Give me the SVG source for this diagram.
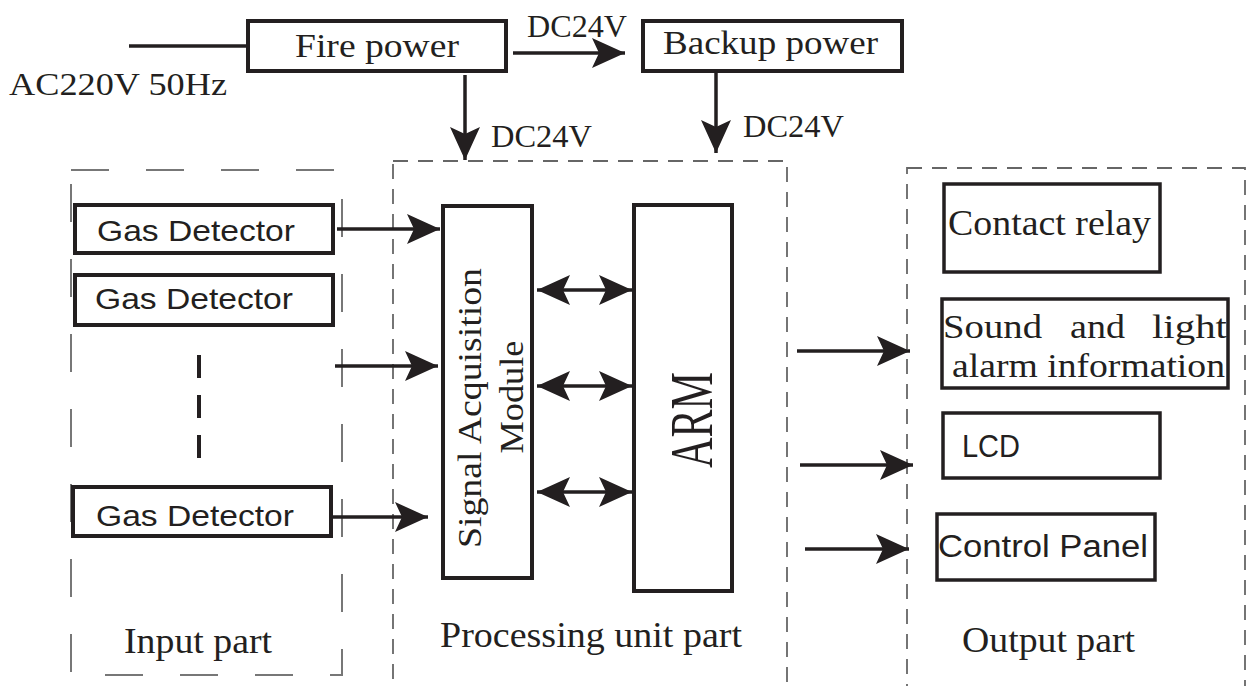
<svg xmlns="http://www.w3.org/2000/svg" width="1246" height="686" viewBox="0 0 1246 686">
<defs>
<style>
.bg{fill:#ffffff}
.box{fill:#ffffff;stroke:#231f20;stroke-width:4}
.obox{fill:#ffffff;stroke:#231f20;stroke-width:3.5}
.grp{fill:none;stroke:#666;stroke-width:1.8;stroke-dasharray:15 10}
.grpin{fill:none;stroke:#777;stroke-width:2;stroke-dasharray:38 37}
.ln{stroke:#231f20;stroke-width:3.5;fill:none}
.arr{stroke:#231f20;stroke-width:3.5;fill:none;marker-end:url(#ah)}
.darr{stroke:#231f20;stroke-width:3.5;fill:none;marker-end:url(#ah);marker-start:url(#ah)}
.serif{font-family:"Liberation Serif","Times New Roman",serif;fill:#231f20}
.sans{font-family:"Liberation Sans",Arial,sans-serif;fill:#231f20}
</style>
<marker id="ah" markerUnits="userSpaceOnUse" markerWidth="36" markerHeight="32" refX="33" refY="15" orient="auto-start-reverse" viewBox="0 0 36 32">
<path d="M0,0 L33,15 L0,30 L7,15 z" fill="#231f20"/>
</marker>
</defs>
<rect class="bg" x="0" y="0" width="1246" height="686"/>

<g id="groups">
<rect id="input-part" class="grpin" x="71" y="170" width="271" height="505"/>
<rect id="processing-part" class="grp" x="393" y="161" width="394" height="540"/>
<rect id="output-part" class="grp" x="907" y="168" width="338" height="540"/>
<text class="serif" x="124" y="653" font-size="35" textLength="148" lengthAdjust="spacingAndGlyphs">Input part</text>
<text class="serif" x="440" y="647" font-size="35" textLength="302" lengthAdjust="spacingAndGlyphs">Processing unit part</text>
<text class="serif" x="962" y="652" font-size="35" textLength="173" lengthAdjust="spacingAndGlyphs">Output part</text>
</g>

<g id="connectors">
<line class="ln" x1="129" y1="46" x2="246" y2="46" stroke-width="3"/>
<line class="arr" x1="513" y1="53" x2="625" y2="53"/>
<line class="arr" x1="465" y1="75" x2="465" y2="160"/>
<line class="arr" x1="716" y1="73" x2="716" y2="153"/>
<line class="arr" x1="337" y1="229" x2="440" y2="229"/>
<line class="arr" x1="335" y1="366" x2="438" y2="366"/>
<line class="arr" x1="333" y1="517" x2="428" y2="517"/>
<line class="darr" x1="537" y1="290" x2="632" y2="290"/>
<line class="darr" x1="537" y1="386" x2="632" y2="386"/>
<line class="darr" x1="537" y1="492" x2="632" y2="492"/>
<line class="arr" x1="797" y1="351" x2="910" y2="351"/>
<line class="arr" x1="800" y1="465" x2="913" y2="465"/>
<line class="arr" x1="805" y1="549" x2="909" y2="549"/>
<line x1="199" y1="355" x2="199" y2="458" stroke="#231f20" stroke-width="4" stroke-dasharray="23 17"/>
<text class="serif" x="9" y="95" font-size="31" textLength="218" lengthAdjust="spacingAndGlyphs">AC220V 50Hz</text>
<text class="serif" x="527" y="37" font-size="32" textLength="100" lengthAdjust="spacingAndGlyphs">DC24V</text>
<text class="serif" x="491" y="147" font-size="32" textLength="101" lengthAdjust="spacingAndGlyphs">DC24V</text>
<text class="serif" x="743" y="137" font-size="32" textLength="101" lengthAdjust="spacingAndGlyphs">DC24V</text>
</g>

<g id="fire-power">
<rect class="box" x="248" y="21" width="258" height="50"/>
<text class="serif" x="295" y="57" font-size="33" textLength="164" lengthAdjust="spacingAndGlyphs">Fire power</text>
</g>
<g id="backup-power">
<rect class="box" x="643" y="21" width="259" height="50"/>
<text class="serif" x="663" y="54" font-size="33" textLength="215" lengthAdjust="spacingAndGlyphs">Backup power</text>
</g>

<g id="gas-detector-1">
<rect class="box" x="75" y="205" width="258" height="48"/>
<text class="sans" x="97" y="241" font-size="29" textLength="198" lengthAdjust="spacingAndGlyphs">Gas Detector</text>
</g>
<g id="gas-detector-2">
<rect class="box" x="75" y="275" width="258" height="50"/>
<text class="sans" x="95" y="309" font-size="29" textLength="198" lengthAdjust="spacingAndGlyphs">Gas Detector</text>
</g>
<g id="gas-detector-3">
<rect class="box" x="73" y="487" width="258" height="49"/>
<text class="sans" x="96" y="526" font-size="29" textLength="198" lengthAdjust="spacingAndGlyphs">Gas Detector</text>
</g>

<g id="signal-acquisition-module">
<rect class="box" x="443" y="206" width="89" height="372" stroke-width="5.5"/>
<text class="serif" transform="translate(481,408) rotate(-90)" x="0" y="0" text-anchor="middle" font-size="33" textLength="280" lengthAdjust="spacingAndGlyphs">Signal Acquisition</text>
<text class="serif" transform="translate(523,397) rotate(-90)" x="0" y="0" text-anchor="middle" font-size="33" textLength="113" lengthAdjust="spacingAndGlyphs">Module</text>
</g>
<g id="arm">
<rect class="box" x="634" y="205" width="98" height="386"/>
<text class="serif" transform="translate(712,420) rotate(-90)" x="0" y="0" text-anchor="middle" font-size="62" textLength="96" lengthAdjust="spacingAndGlyphs">ARM</text>
</g>

<g id="contact-relay">
<rect class="obox" x="944" y="184" width="216" height="88"/>
<text class="serif" x="948" y="235" font-size="36" textLength="203" lengthAdjust="spacingAndGlyphs">Contact relay</text>
</g>
<g id="sound-light-alarm">
<rect class="obox" x="942" y="299" width="286" height="89"/>
<text class="serif" y="338" font-size="33"><tspan x="943" textLength="99" lengthAdjust="spacingAndGlyphs">Sound</tspan><tspan x="1070" textLength="55" lengthAdjust="spacingAndGlyphs">and</tspan><tspan x="1152" textLength="75" lengthAdjust="spacingAndGlyphs">light</tspan></text>
<text class="serif" x="952" y="377" font-size="33" textLength="273" lengthAdjust="spacingAndGlyphs">alarm information</text>
</g>
<g id="lcd">
<rect class="obox" x="943" y="413" width="217" height="65"/>
<text class="sans" x="962" y="457" font-size="31" textLength="58" lengthAdjust="spacingAndGlyphs">LCD</text>
</g>
<g id="control-panel">
<rect class="obox" x="937" y="514" width="218" height="66"/>
<text class="sans" x="938" y="557" font-size="31" textLength="210" lengthAdjust="spacingAndGlyphs">Control Panel</text>
</g>
</svg>
